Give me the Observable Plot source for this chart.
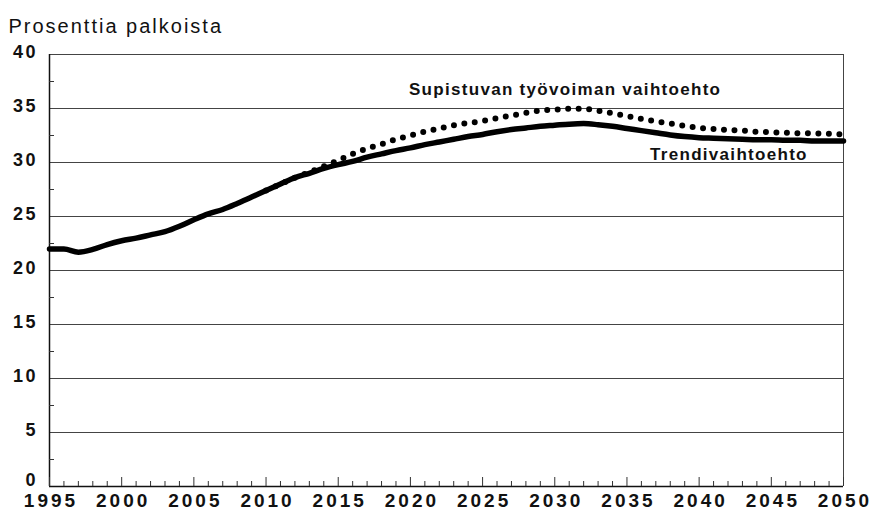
<!DOCTYPE html>
<html><head><meta charset="utf-8">
<script src="https://cdn.jsdelivr.net/npm/d3@7"></script>
<script src="https://cdn.jsdelivr.net/npm/@observablehq/plot@0.6"></script>
<style>
html,body{margin:0;padding:0;background:#fff;}
</style></head><body><div id="chart"></div>
<script>
const titleText = "Prosenttia palkoista";

const trendYears = d3.range(1995, 2051);
const trendValues = [
  22.0, 22.0, 21.7, 21.95, 22.4, 22.75, 23.0, 23.3, 23.6, 24.1,
  24.7, 25.25, 25.65, 26.2, 26.8, 27.4, 28.0, 28.6, 29.0, 29.45,
  29.8, 30.1, 30.5, 30.8, 31.1, 31.35, 31.65, 31.9, 32.15, 32.4,
  32.6, 32.85, 33.05, 33.2, 33.35, 33.45, 33.55, 33.6, 33.5, 33.35,
  33.15, 32.95, 32.75, 32.55, 32.4, 32.3, 32.25, 32.2, 32.15, 32.1,
  32.1, 32.05, 32.05, 32.0, 32.0, 32.0
];

const supYears = d3.range(2010, 2051);
const supValues = [
  27.4, 28.0, 28.6, 29.1, 29.65, 30.2, 30.8, 31.3, 31.7, 32.15,
  32.5, 32.85, 33.15, 33.45, 33.65, 33.85, 34.1, 34.35, 34.6, 34.8,
  34.9, 34.97, 34.97, 34.8, 34.55, 34.3, 34.05, 33.8, 33.6, 33.4,
  33.2, 33.1, 33.0, 32.95, 32.85, 32.8, 32.75, 32.7, 32.7, 32.65, 32.6
];

const yTicks = [0, 5, 10, 15, 20, 25, 30, 35, 40];
const yMinorTicks = [2.5, 7.5, 12.5, 17.5, 22.5, 27.5, 32.5, 37.5];
const xTicks = [1995, 2000, 2005, 2010, 2015, 2020, 2025, 2030, 2035, 2040, 2045, 2050];
const xMinorTicks = d3.range(1996, 2050).filter(y => y % 5 !== 0);

const seriesLabels = ["Supistuvan työvoiman vaihtoehto", "Trendivaihtoehto"];
const labelYears = [2019.9, 2036.6];
const labelValues = [36.72, 30.74];

const trend = trendYears.map((year, i) => ({year, value: trendValues[i]}));
const sup = supYears.map((year, i) => ({year, value: supValues[i]}));
const labels = seriesLabels.map((text, i) => ({text, year: labelYears[i], value: labelValues[i]}));

const W = 873, H = 513, ML = 49, MR = 30, MT = 54, MB = 27;
const frameW = W - ML - MR, frameH = H - MT - MB;
const yLabelStyle = {x: 1995, y: d => d, text: d => String(d), textAnchor: "end", dx: -11.5, fontSize: 18, fontWeight: "bold", fill: "#111"};

const chart = Plot.plot({
  width: W, height: H,
  marginLeft: ML, marginRight: MR, marginTop: MT, marginBottom: MB,
  style: {fontFamily: "'Liberation Sans', Arial, sans-serif", background: "#fff", color: "#111"},
  x: {domain: [1995, 2050], axis: null},
  y: {domain: [0, 40], axis: null},
  marks: [
    Plot.ruleY(yTicks.filter(v => v > 0), {stroke: "#444", strokeWidth: 1}),
    Plot.ruleX([2050], {stroke: "#444", strokeWidth: 1}),
    Plot.ruleY([0], {stroke: "#111", strokeWidth: 1.5}),
    Plot.ruleX([1995], {stroke: "#111", strokeWidth: 1.5}),
    Plot.tickY(yMinorTicks, {y: d => d, insetRight: frameW - 5, stroke: "#333", strokeWidth: 1}),
    Plot.tickX(xMinorTicks, {x: d => d, insetTop: frameH - 5, stroke: "#333", strokeWidth: 1}),
    Plot.tickX(xTicks, {x: d => d, insetTop: frameH - 9, stroke: "#333", strokeWidth: 1}),
    Plot.line(sup, {x: "year", y: "value", stroke: "#000", strokeWidth: 6, strokeDasharray: "0 10.5", strokeLinecap: "round", curve: "monotone-x"}),
    Plot.line(trend, {x: "year", y: "value", stroke: "#000", strokeWidth: 5.5, strokeLinecap: "round", strokeLinejoin: "round", curve: "monotone-x"}),
    Plot.text(yTicks.filter(v => v > 0), {...yLabelStyle, dy: -2}),
    Plot.text(yTicks.filter(v => v === 0), {...yLabelStyle, dy: -6}),
    Plot.text(xTicks, {x: d => d, y: 0, text: d => String(d), textAnchor: "middle", dx: 1.5, dy: 14, fontSize: 19, fontWeight: "bold", fill: "#111"}),
    Plot.text(labels, {x: "year", y: "value", text: "text", textAnchor: "start", fontSize: 17, fontWeight: "bold", fill: "#111"}),
    Plot.text([titleText], {frameAnchor: "top-left", dx: -41, dy: -35.4, textAnchor: "start", fontSize: 20, fill: "#111"})
  ]
});
const spacing = {"18": "2.5px", "19": "3px", "17": "1.3px", "20": "2px"};
d3.select(chart).selectAll("g[font-size]").each(function() {
  const fs = this.getAttribute("font-size");
  if (spacing[fs]) this.style.letterSpacing = spacing[fs];
});
document.getElementById("chart").appendChild(chart);
</script></body></html>
